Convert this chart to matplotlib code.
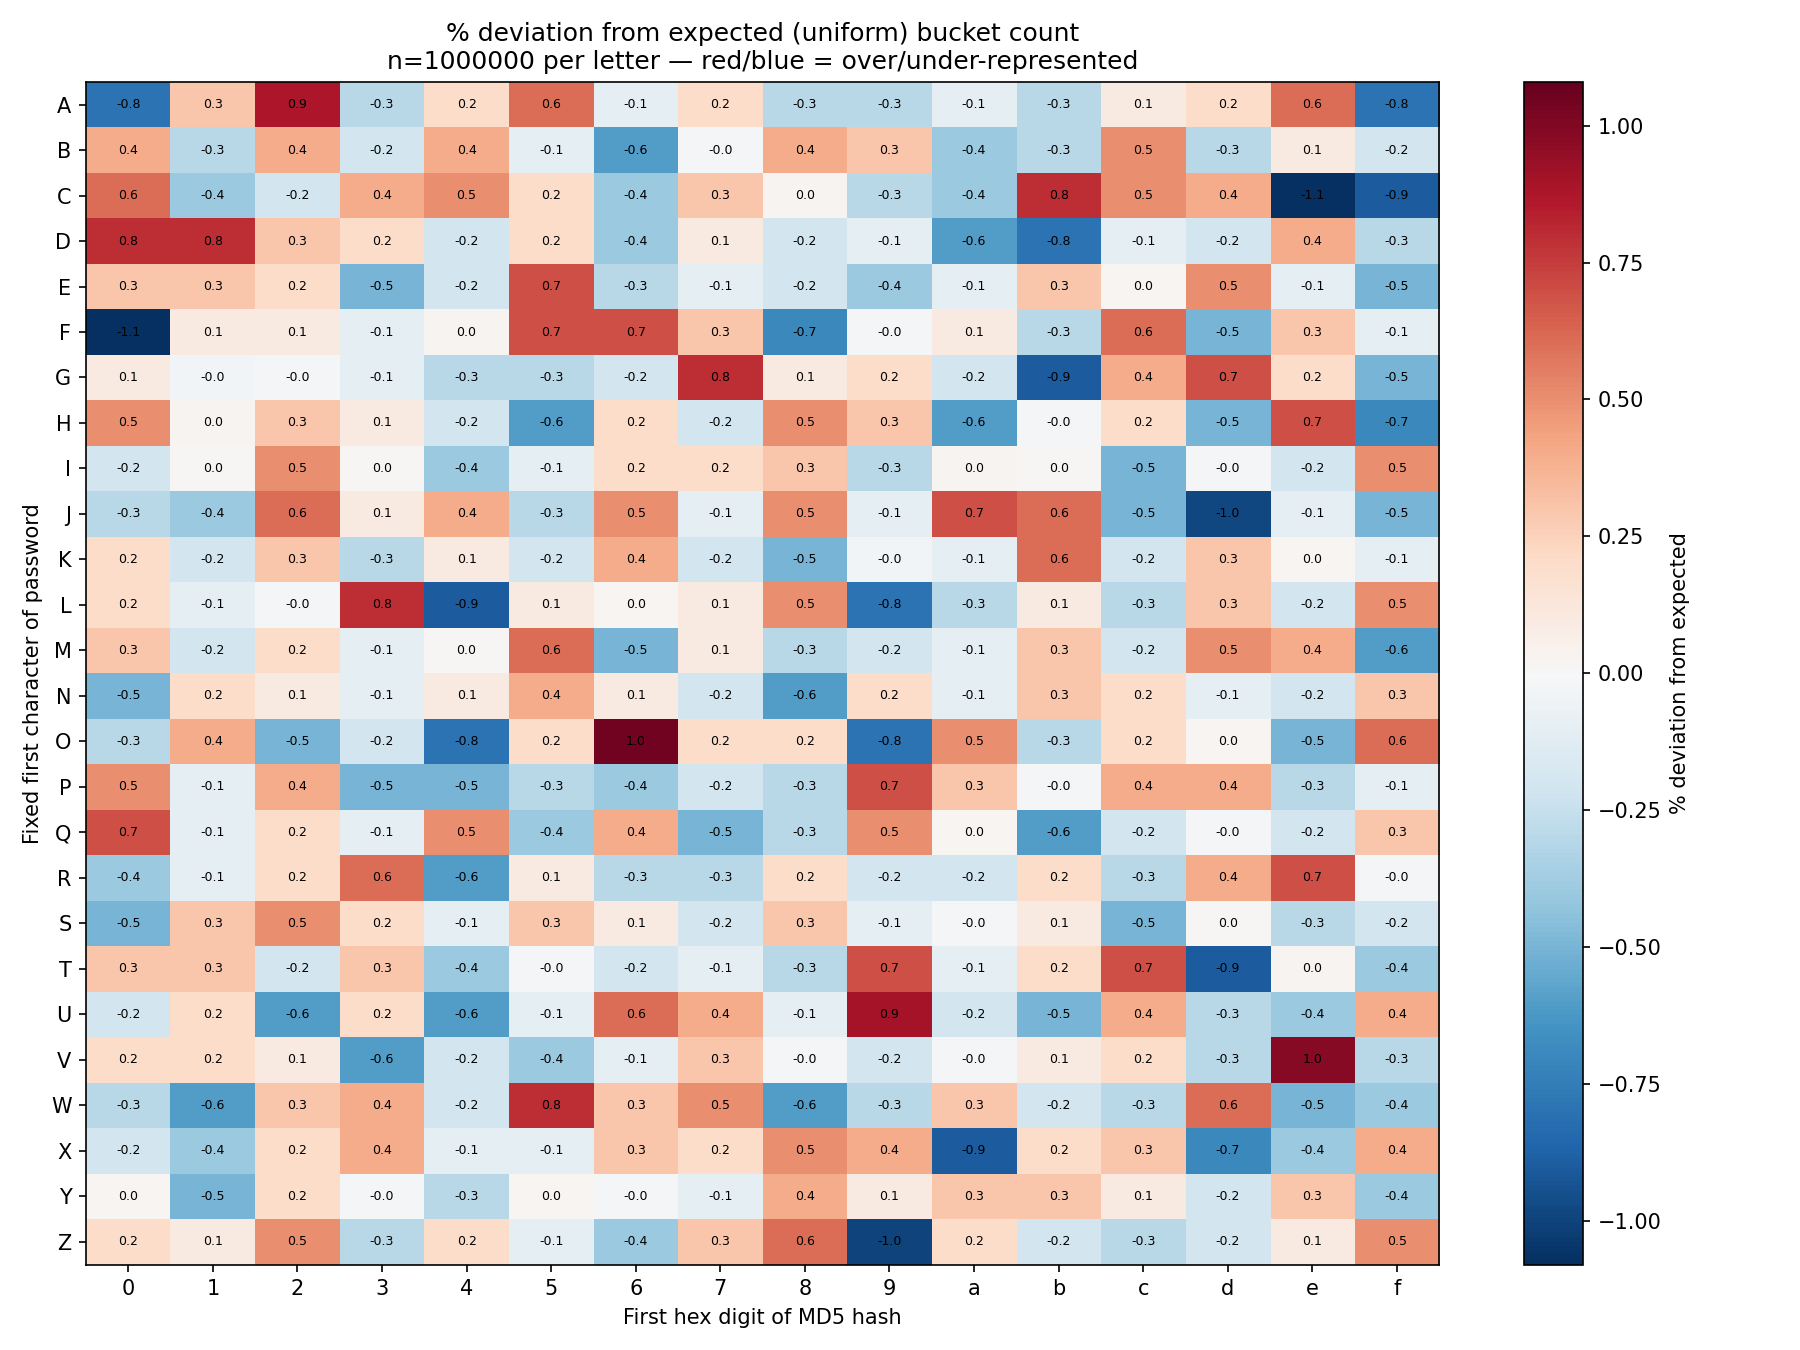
import matplotlib
matplotlib.use("Agg")
import matplotlib.pyplot as plt
import numpy as np

letters = [chr(c) for c in range(ord('A'), ord('Z') + 1)]
hex_digits = list("0123456789abcdef")

# % deviation per (letter, first hex digit)
rows = {
    'A': [-0.8, 0.3, 0.87, -0.3, 0.2, 0.6, -0.1, 0.2, -0.3, -0.3, -0.1, -0.3, 0.1, 0.2, 0.6, -0.8],
    'B': [0.4, -0.3, 0.4, -0.2, 0.4, -0.1, -0.6, -0.02, 0.4, 0.3, -0.4, -0.3, 0.5, -0.3, 0.1, -0.2],
    'C': [0.6, -0.4, -0.2, 0.4, 0.5, 0.2, -0.4, 0.3, 0.03, -0.3, -0.4, 0.8, 0.5, 0.4, -1.08, -0.9],
    'D': [0.8, 0.8, 0.3, 0.2, -0.2, 0.2, -0.4, 0.1, -0.2, -0.1, -0.6, -0.8, -0.1, -0.2, 0.4, -0.3],
    'E': [0.3, 0.3, 0.2, -0.5, -0.2, 0.7, -0.3, -0.1, -0.2, -0.4, -0.1, 0.3, 0.02, 0.5, -0.1, -0.5],
    'F': [-1.08, 0.1, 0.1, -0.1, 0.03, 0.7, 0.7, 0.3, -0.7, -0.02, 0.1, -0.3, 0.6, -0.5, 0.3, -0.1],
    'G': [0.1, -0.03, -0.02, -0.1, -0.3, -0.3, -0.2, 0.8, 0.1, 0.2, -0.2, -0.9, 0.4, 0.7, 0.2, -0.5],
    'H': [0.5, 0.03, 0.3, 0.1, -0.2, -0.6, 0.2, -0.2, 0.5, 0.3, -0.6, -0.02, 0.2, -0.5, 0.7, -0.7],
    'I': [-0.2, 0.01, 0.5, 0.01, -0.4, -0.1, 0.2, 0.2, 0.3, -0.3, 0.03, 0.01, -0.5, -0.02, -0.2, 0.5],
    'J': [-0.3, -0.4, 0.6, 0.1, 0.4, -0.3, 0.5, -0.1, 0.5, -0.1, 0.7, 0.6, -0.5, -0.98, -0.1, -0.5],
    'K': [0.2, -0.2, 0.3, -0.3, 0.1, -0.2, 0.4, -0.2, -0.5, -0.03, -0.1, 0.6, -0.2, 0.3, 0.02, -0.1],
    'L': [0.2, -0.1, -0.01, 0.8, -0.9, 0.1, 0.02, 0.1, 0.5, -0.8, -0.3, 0.1, -0.3, 0.3, -0.2, 0.5],
    'M': [0.3, -0.2, 0.2, -0.1, 0.01, 0.6, -0.5, 0.1, -0.3, -0.2, -0.1, 0.3, -0.2, 0.5, 0.4, -0.6],
    'N': [-0.5, 0.2, 0.1, -0.1, 0.1, 0.4, 0.1, -0.2, -0.6, 0.2, -0.1, 0.3, 0.2, -0.1, -0.2, 0.3],
    'O': [-0.3, 0.4, -0.5, -0.2, -0.8, 0.2, 1.04, 0.2, 0.2, -0.8, 0.5, -0.3, 0.2, 0.02, -0.5, 0.6],
    'P': [0.5, -0.1, 0.4, -0.5, -0.5, -0.3, -0.4, -0.2, -0.3, 0.7, 0.3, -0.01, 0.4, 0.4, -0.3, -0.1],
    'Q': [0.7, -0.1, 0.2, -0.1, 0.5, -0.4, 0.4, -0.5, -0.3, 0.5, 0.02, -0.6, -0.2, -0.01, -0.2, 0.3],
    'R': [-0.4, -0.1, 0.2, 0.6, -0.6, 0.1, -0.3, -0.3, 0.2, -0.2, -0.2, 0.2, -0.3, 0.4, 0.7, -0.01],
    'S': [-0.5, 0.3, 0.5, 0.2, -0.1, 0.3, 0.1, -0.2, 0.3, -0.1, -0.02, 0.1, -0.5, 0.01, -0.3, -0.2],
    'T': [0.3, 0.3, -0.2, 0.3, -0.4, -0.01, -0.2, -0.1, -0.3, 0.7, -0.1, 0.2, 0.7, -0.9, 0.03, -0.4],
    'U': [-0.2, 0.2, -0.6, 0.2, -0.6, -0.1, 0.6, 0.4, -0.1, 0.9, -0.2, -0.5, 0.4, -0.3, -0.4, 0.4],
    'V': [0.2, 0.2, 0.1, -0.6, -0.2, -0.4, -0.1, 0.3, -0.01, -0.2, -0.02, 0.1, 0.2, -0.3, 0.98, -0.3],
    'W': [-0.3, -0.6, 0.3, 0.4, -0.2, 0.8, 0.3, 0.5, -0.6, -0.3, 0.3, -0.2, -0.3, 0.6, -0.5, -0.4],
    'X': [-0.2, -0.4, 0.2, 0.4, -0.1, -0.1, 0.3, 0.2, 0.5, 0.4, -0.9, 0.2, 0.3, -0.7, -0.4, 0.4],
    'Y': [0.02, -0.5, 0.2, -0.02, -0.3, 0.02, -0.02, -0.1, 0.4, 0.1, 0.3, 0.3, 0.1, -0.2, 0.3, -0.4],
    'Z': [0.2, 0.1, 0.5, -0.3, 0.2, -0.1, -0.4, 0.3, 0.6, -1.0, 0.2, -0.2, -0.3, -0.2, 0.1, 0.5],
}

n_per_letter = 1000000

data = np.array([rows[l] for l in letters])
vlim = np.abs(data).max()

fig, ax = plt.subplots(figsize=(12, 9), dpi=150)
im = ax.imshow(data, cmap='RdBu_r', vmin=-vlim, vmax=vlim, aspect='auto')

for i in range(len(letters)):
    for j in range(len(hex_digits)):
        ax.text(j, i, '%.1f' % data[i, j], ha='center', va='center', fontsize=6, color='black')

ax.set_xticks(range(len(hex_digits)))
ax.set_xticklabels(hex_digits)
ax.set_yticks(range(len(letters)))
ax.set_yticklabels(letters)
ax.set_xlabel('First hex digit of MD5 hash')
ax.set_ylabel('Fixed first character of password')
ax.set_title('% deviation from expected (uniform) bucket count\n'
             'n=' + str(n_per_letter) + ' per letter \u2014 red/blue = over/under-represented')

cbar = fig.colorbar(im, ax=ax)
cbar.set_label('% deviation from expected')

fig.tight_layout()
fig.savefig('out.png', dpi=150)
